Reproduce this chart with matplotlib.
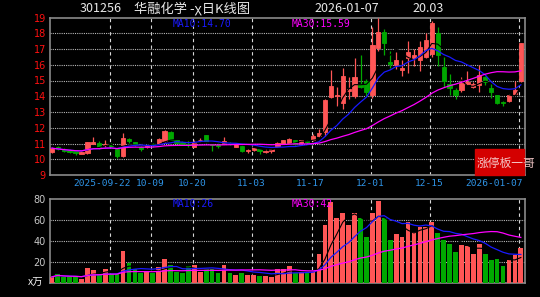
import matplotlib
matplotlib.use("Agg")
import matplotlib.pyplot as plt
from matplotlib.patches import Rectangle
from matplotlib.transforms import blended_transform_factory
import pandas as pd
import numpy as np

plt.rcParams['font.family'] = ['Noto Sans CJK SC', 'DejaVu Sans']

# daily K-line (yuan)
opens = [10.48, 10.78, 10.68, 10.60, 10.50, 10.36, 10.38, 11.00, 11.05, 10.90,
         10.90, 10.62, 10.18, 11.30, 11.08, 10.80, 10.75, 11.00, 11.00, 11.15,
         11.75, 11.20, 11.10, 11.00, 10.80, 11.20, 11.52, 10.95, 10.92, 11.00,
         11.05, 10.80, 10.85, 10.50, 10.60, 10.65, 10.45, 10.55, 10.80, 11.00,
         11.05, 11.20, 11.05, 11.15, 11.20, 11.45, 11.70, 13.95, 14.00, 13.60,
         14.35, 14.00, 14.80, 15.00, 14.10, 17.06, 18.10, 16.15, 16.00, 15.65,
         16.40, 16.40, 16.30, 16.50, 16.70, 18.00, 15.85, 14.80, 14.40, 14.40,
         14.75, 14.60, 14.70, 15.20, 14.50, 14.06, 13.65, 13.70, 14.15, 15.00]
highs = [10.75, 10.85, 10.72, 10.65, 10.55, 10.50, 11.10, 11.40, 11.15, 11.20,
         11.05, 10.65, 11.68, 11.35, 11.12, 10.85, 10.90, 11.05, 11.32, 11.85,
         11.78, 11.25, 11.15, 11.22, 11.25, 11.35, 11.55, 11.00, 11.05, 11.40,
         11.10, 11.00, 10.90, 10.62, 10.75, 10.68, 10.62, 10.68, 11.10, 11.25,
         11.35, 11.25, 11.25, 11.20, 11.60, 11.90, 13.80, 15.67, 14.60, 15.80,
         15.20, 16.40, 16.60, 15.10, 18.40, 19.00, 18.30, 16.90, 16.80, 16.30,
         17.50, 17.00, 17.50, 18.00, 18.75, 18.40, 16.50, 15.40, 14.50, 15.20,
         15.60, 14.90, 16.00, 15.30, 14.80, 14.10, 13.70, 14.15, 15.00, 17.40]
lows = [10.42, 10.58, 10.48, 10.40, 10.30, 10.32, 10.35, 10.95, 10.65, 10.75,
        10.75, 10.05, 10.12, 11.05, 10.85, 10.55, 10.70, 10.80, 10.95, 11.10,
        11.20, 11.00, 10.90, 10.78, 10.75, 11.10, 11.05, 10.50, 10.72, 10.95,
        10.90, 10.75, 10.45, 10.42, 10.55, 10.35, 10.38, 10.40, 10.75, 10.95,
        11.00, 10.92, 11.00, 11.00, 11.15, 11.40, 11.50, 13.90, 13.40, 13.20,
        13.80, 13.90, 14.50, 14.00, 13.90, 16.90, 16.60, 15.80, 15.70, 15.30,
        15.50, 15.90, 15.60, 16.40, 16.50, 15.95, 14.60, 14.10, 13.80, 14.30,
        14.70, 14.50, 14.30, 14.70, 13.90, 13.50, 13.40, 13.65, 14.10, 14.90]
closes = [10.70, 10.62, 10.52, 10.46, 10.42, 10.46, 11.07, 11.08, 10.72, 10.98,
          10.85, 10.22, 11.36, 11.15, 10.92, 10.68, 10.85, 10.88, 11.28, 11.80,
          11.25, 11.05, 10.95, 10.88, 11.10, 11.25, 11.12, 10.88, 10.85, 11.15,
          10.98, 10.95, 10.55, 10.58, 10.70, 10.55, 10.55, 10.62, 11.05, 11.20,
          11.30, 10.98, 11.20, 11.10, 11.45, 11.65, 13.78, 14.65, 14.10, 15.30,
          14.45, 15.20, 14.60, 14.27, 17.25, 18.10, 17.40, 16.05, 16.30, 15.80,
          16.80, 16.60, 17.10, 17.60, 18.65, 16.60, 14.97, 14.50, 14.10, 14.85,
          14.90, 14.80, 15.35, 14.90, 14.25, 13.60, 13.60, 14.10, 14.40, 17.36]
# volume, 10k shares
volumes = [5.8, 8.6, 5.8, 5.8, 5.8, 4.2, 13.9, 12.3, 8.4, 12.9,
           9.0, 9.0, 30.6, 18.7, 12.9, 9.7, 10.6, 9.7, 14.8, 22.6,
           17.1, 10.6, 9.7, 16.1, 17.1, 10.6, 12.9, 12.9, 9.7, 17.1,
           9.7, 7.4, 9.7, 7.4, 7.4, 6.5, 6.5, 6.0, 13.8, 13.8,
           16.0, 9.7, 10.5, 9.6, 10.5, 27.4, 55.2, 77.5, 62.2, 67.0,
           55.2, 67.0, 61.6, 44.0, 67.0, 78.0, 61.6, 40.8, 46.3, 44.0,
           58.4, 48.8, 53.6, 53.6, 58.4, 47.9, 40.8, 37.6, 29.7, 36.0,
           35.0, 27.4, 37.6, 28.0, 22.3, 23.3, 16.0, 21.7, 26.5, 33.8]

holidays = ['2025-10-01', '2025-10-02', '2025-10-03', '2025-10-06', '2025-10-07',
            '2025-10-08', '2026-01-01', '2026-01-02']
tick_dates = ['2025-09-22', '2025-10-09', '2025-10-20', '2025-11-03',
              '2025-11-17', '2025-12-01', '2025-12-15', '2026-01-07']
tick_labels = ['2025-09-22', '10-09', '10-20', '11-03', '11-17', '12-01',
               '12-15', '2026-01-07']

dates = pd.bdate_range('2025-09-08', '2026-01-07')
dates = dates[~dates.isin(pd.to_datetime(holidays))]
df = pd.DataFrame({'open': opens, 'high': highs, 'low': lows,
                   'close': closes, 'vol': volumes}, index=dates)
x = np.arange(len(df))
tick_x = [dates.get_loc(pd.Timestamp(d)) for d in tick_dates]

RED = '#ff5656'
GREEN = '#00a800'
up = (df['close'] >= df['open']).values
cols = np.where(up, RED, GREEN)

W, H = 540, 297
fig = plt.figure(figsize=(W / 100, H / 100), dpi=100, facecolor='black')

def box(l, t, r, b):
    return [l / W, 1 - b / H, (r - l) / W, (b - t) / H]

ax = fig.add_axes(box(50, 17.5, 525, 175), facecolor='black')
axv = fig.add_axes(box(50, 199, 525, 283), facecolor='black')

for a in (ax, axv):
    for s in a.spines.values():
        s.set_color('#8a8a8a')
        s.set_linewidth(1.2)
    a.tick_params(length=0, pad=3)
    a.set_xlim(-0.3, 79.7)
    a.set_xticks([])
    for t in tick_x:
        a.axvline(t - 0.25, color='#d8d8d8', lw=0.8, ls=(0, (3, 3)), zorder=1)

# price panel
ax.set_ylim(9, 19)
ax.set_yticks(range(9, 20))
ax.set_yticklabels([str(v) for v in range(9, 20)], color='#ff1010', fontsize=7,
                   family='DejaVu Sans')
for v in range(10, 19):
    ax.axhline(v, color='#b8b8b8', lw=0.8, ls=(0, (1, 1)), zorder=1)

ax.vlines(x, df['low'], df['high'], colors=cols, lw=0.9, zorder=3)
bottoms = np.minimum(df['open'], df['close'])
heights = np.abs(df['close'] - df['open'])
ax.bar(x, heights, bottom=bottoms, width=0.72, color=cols, edgecolor=cols,
       linewidth=0.6, zorder=4)

ma5 = df['close'].rolling(5, min_periods=1).mean()
ma10 = df['close'].rolling(10, min_periods=1).mean()
ma30 = df['close'].rolling(30, min_periods=1).mean()
ax.plot(x, ma5, color='black', lw=0.8, zorder=5)
ax.plot(x, ma10, color='#1a1aff', lw=0.9, zorder=5)
ax.plot(x, ma30, color='#ff00ff', lw=0.9, zorder=5)

# volume panel
axv.set_ylim(0, 80)
axv.set_yticks([0, 20, 40, 60, 80])
axv.set_yticklabels(['', '20', '40', '60', '80'], color='#c8c8c8', fontsize=7,
                    family='DejaVu Sans')
for v in (20, 40, 60):
    axv.axhline(v, color='#b8b8b8', lw=0.8, ls=(0, (1, 1)), zorder=1)
axv.bar(x, df['vol'], width=0.8, color=cols, zorder=3)
vma5 = df['vol'].rolling(5, min_periods=1).mean()
vma10 = df['vol'].rolling(10, min_periods=1).mean()
vma30 = df['vol'].rolling(30, min_periods=1).mean()
axv.plot(x, vma5, color='black', lw=0.8, zorder=5)
axv.plot(x, vma10, color='#1a1aff', lw=0.9, zorder=5)
axv.plot(x, vma30, color='#ff00ff', lw=0.9, zorder=5)

# date labels between the panels
trans = blended_transform_factory(ax.transData, fig.transFigure)
last = len(tick_x) - 1
for i, (t, lab) in enumerate(zip(tick_x, tick_labels)):
    if i == 0:
        ha, xx = 'right', t + 3.3
    elif i == last:
        ha, xx = 'right', t + 0.4
    else:
        ha, xx = 'center', t - 0.4
    fig.text(xx, 1 - 184 / H, lab, transform=trans, ha=ha, va='center',
             color='#2f95e8', fontsize=6.8, family='DejaVu Sans Mono')

# header
def ftxt(px, py, s, **kw):
    fig.text(px / W, 1 - py / H, s, va='center', **kw)

ftxt(80, 9, '301256', color='#e8e8e8', fontsize=9)
ftxt(134, 9, '华融化学 -χ日K线图', color='#e8e8e8', fontsize=9.5)
ftxt(314, 9, '2026-01-07', color='#e8e8e8', fontsize=9)
ftxt(412, 9, '20.03', color='#e8e8e8', fontsize=9)

ftxt(173, 24, 'MA10:14.70', color='#1a1aff', fontsize=7, family='DejaVu Sans Mono')
ftxt(292, 24, 'MA30:15.59', color='#ff00ff', fontsize=7, family='DejaVu Sans Mono')
ftxt(173, 204, 'MA10:26', color='#1a1aff', fontsize=7, family='DejaVu Sans Mono')
ftxt(292, 204, 'MA30:42', color='#ff00ff', fontsize=7, family='DejaVu Sans Mono')
ftxt(28, 283, 'x万', color='#f0f0f0', fontsize=7.5)

# watermark box
fig.patches.append(Rectangle((475 / W, 1 - 175 / H), 49 / W, 26 / H,
                             transform=fig.transFigure, color='#d40000', zorder=0))
ftxt(477, 163, '涨停板一哥', color='#f4c8c8', fontsize=8.5, zorder=10)

fig.savefig('out.png', dpi=100, facecolor='black')
